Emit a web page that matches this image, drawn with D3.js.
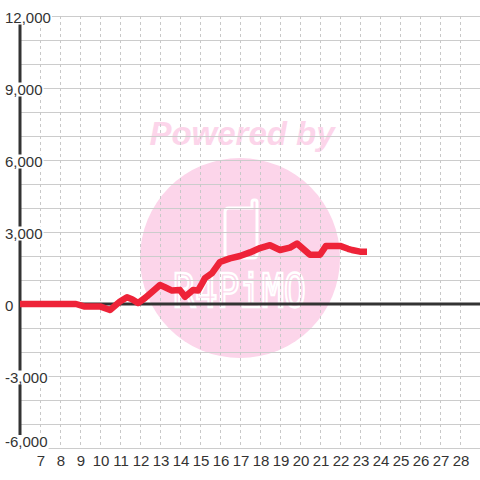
<!DOCTYPE html>
<html><head><meta charset="utf-8">
<script src="https://cdn.jsdelivr.net/npm/d3@7"></script>
<style>html,body{margin:0;padding:0;background:#fff;}svg{display:block;}</style>
</head><body>
<script>
const hours = [6.0, 8.8, 9.2, 10.0, 10.5, 11.0, 11.35, 11.6, 11.9, 12.25, 12.6, 13.0, 13.25, 13.6, 14.0, 14.25, 14.65, 14.9, 15.1, 15.25, 15.6, 16.0, 16.5, 17.0, 17.5, 18.0, 18.5, 19.0, 19.5, 19.85, 20.5, 21.0, 21.3, 22.0, 22.4, 22.6, 23.0, 23.35];
const values = [0, 0, -100, -100, -250, 100, 280, 200, 40, 250, 500, 790, 700, 560, 580, 300, 580, 560, 850, 1080, 1290, 1750, 1900, 2000, 2150, 2330, 2450, 2250, 2350, 2520, 2050, 2050, 2420, 2420, 2300, 2250, 2180, 2180];
const xTicks = [7,8,9,10,11,12,13,14,15,16,17,18,19,20,21,22,23,24,25,26,27,28];
const yLabelTicks = [12000, 9000, 6000, 3000, 0, -3000, -6000];
const yGridTicks = d3.range(-6000, 12001, 1000);

const W = 480, H = 480;
const x = d3.scaleLinear().domain([6, 29]).range([20, 480]);
const y = d3.scaleLinear().domain([-6000, 12000]).range([448, 16]);

const svg = d3.select("body").append("svg").attr("width", W).attr("height", H);
svg.append("rect").attr("width", W).attr("height", H).attr("fill", "#ffffff");

// watermark
const wm = svg.append("g");
wm.append("circle").attr("cx", 240).attr("cy", 258).attr("r", 100).attr("fill", "#fcd5ea");
wm.append("text").attr("x", 242).attr("y", 145).attr("text-anchor", "middle")
  .attr("font-family", "Liberation Sans, Arial, sans-serif").attr("font-weight", "bold")
  .attr("font-style", "italic").attr("font-size", 33).attr("fill", "#fcd5ea").text("Powered by");
wm.append("path").attr("d", "M229,208 L252,208 L252,202 Q252,200 254,200 L255,200 Q257,200 257,202 L257,254 Q257,258 253,258 L229,258 Q225,258 225,254 L225,212 Q225,208 229,208 Z")
  .attr("fill", "none").attr("stroke", "#ffffff").attr("stroke-width", 3);
wm.append("text").attr("x", 173).attr("y", 307).attr("textLength", 133).attr("lengthAdjust", "spacingAndGlyphs")
  .attr("font-family", "DejaVu Sans Mono, monospace").attr("font-size", 46)
  .attr("fill", "none").attr("stroke", "#ffffff").attr("stroke-width", 2.5).text("R4PiMO");

// grid
const grid = svg.append("g");
grid.selectAll("line.h").data(yGridTicks).enter().append("line")
  .attr("x1", x(6)).attr("x2", x(29)).attr("y1", d => y(d)).attr("y2", d => y(d))
  .attr("stroke", "#cccccc").attr("stroke-width", 1).attr("shape-rendering", "crispEdges");
grid.selectAll("line.v").data(xTicks).enter().append("line")
  .attr("x1", d => x(d)).attr("x2", d => x(d)).attr("y1", y(12000)).attr("y2", y(-6000))
  .attr("stroke", "#c8c8c8").attr("stroke-width", 1).attr("stroke-dasharray", "3,3")
  .attr("shape-rendering", "crispEdges");

// y axis line and zero line
svg.append("line").attr("x1", x(6)).attr("x2", x(6)).attr("y1", y(12000)).attr("y2", y(-6000))
  .attr("stroke", "#333333").attr("stroke-width", 3);
svg.append("line").attr("x1", x(6)).attr("x2", x(29)).attr("y1", y(0)).attr("y2", y(0))
  .attr("stroke", "#333333").attr("stroke-width", 3);

// data line
const line = d3.line().x((d, i) => x(hours[i])).y(d => y(d)).curve(d3.curveLinear);
svg.append("path").attr("d", line(values)).attr("fill", "none")
  .attr("stroke", "#ee2338").attr("stroke-width", 6.5).attr("stroke-linejoin", "round").attr("stroke-linecap", "butt");

// y labels with background
const fmt = v => d3.format(",")(v).replace("\u2212", "-");
const yl = svg.append("g").attr("font-family", "Liberation Sans, Arial, sans-serif").attr("font-size", 15).attr("fill", "#333333");
yLabelTicks.forEach(t => {
  const cy = Math.min(y(t) + 1, 441.5);
  const g = yl.append("g");
  const r = g.append("rect").attr("fill", "#ffffff");
  const tx = g.append("text").attr("x", 5).attr("y", cy + 5.5).text(fmt(t));
  const bb = tx.node().getBBox();
  r.attr("x", 0).attr("y", cy - 6.5).attr("width", bb.x + bb.width + 1).attr("height", 14);
});

// x labels
svg.append("g").attr("font-family", "Liberation Sans, Arial, sans-serif").attr("font-size", 15).attr("fill", "#333333")
  .selectAll("text").data(xTicks).enter().append("text")
  .attr("x", d => x(d) + 1).attr("y", 466).attr("text-anchor", "middle").text(d => d);
</script>
</body></html>
